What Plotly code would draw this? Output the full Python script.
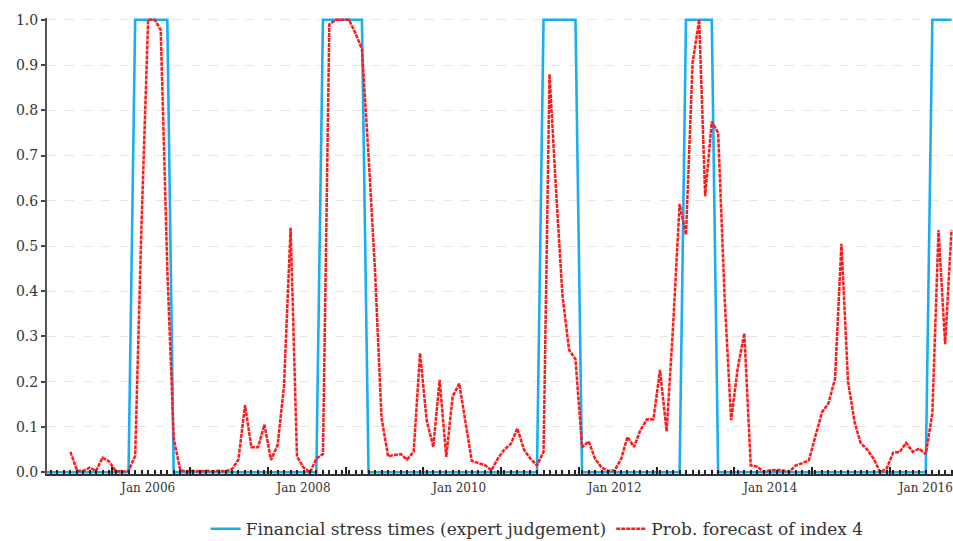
import pandas as pd
import plotly.graph_objects as go

# Monthly probability forecast of stress index 4, Jan 2005 - May 2016
forecast_start = "2005-01-01"
forecast = [
    # 2005
    0.045, 0.004, 0.002, 0.010, 0.003, 0.032, 0.024, 0.003, 0.001, 0.003, 0.036, 0.550,
    # 2006
    1.000, 1.000, 0.978, 0.450, 0.075, 0.004, 0.002, 0.003, 0.002, 0.003, 0.002, 0.003,
    # 2007
    0.002, 0.008, 0.028, 0.148, 0.055, 0.055, 0.105, 0.027, 0.060, 0.190, 0.540, 0.035,
    # 2008
    0.010, 0.000, 0.030, 0.040, 0.990, 1.000, 1.000, 1.000, 0.970, 0.935, 0.700, 0.450,
    # 2009
    0.120, 0.035, 0.038, 0.040, 0.028, 0.045, 0.263, 0.115, 0.056, 0.204, 0.034, 0.167,
    # 2010
    0.196, 0.110, 0.025, 0.020, 0.016, 0.004, 0.030, 0.050, 0.063, 0.097, 0.050, 0.030,
    # 2011
    0.015, 0.045, 0.880, 0.620, 0.390, 0.270, 0.250, 0.055, 0.068, 0.030, 0.010, 0.003,
    # 2012
    0.004, 0.030, 0.078, 0.056, 0.093, 0.117, 0.117, 0.226, 0.090, 0.320, 0.593, 0.525,
    # 2013
    0.905, 1.000, 0.610, 0.775, 0.750, 0.380, 0.115, 0.230, 0.307, 0.015, 0.012, 0.001,
    # 2014
    0.004, 0.005, 0.004, 0.001, 0.015, 0.020, 0.026, 0.080, 0.133, 0.152, 0.207, 0.505,
    # 2015
    0.200, 0.110, 0.065, 0.050, 0.030, 0.000, 0.008, 0.043, 0.045, 0.065, 0.045, 0.052,
    # 2016
    0.040, 0.130, 0.535, 0.283, 0.535,
]

# Expert-judgement stress indicator (1 = stress), Sep 2004 - May 2016
stress_start = "2004-09-01"
stress = [
    # 2004 (Sep-Dec)
    0, 0, 0, 0,
    # 2005
    0, 0, 0, 0, 0, 0, 0, 0, 0, 0, 1, 1,
    # 2006
    1, 1, 1, 1, 0, 0, 0, 0, 0, 0, 0, 0,
    # 2007
    0, 0, 0, 0, 0, 0, 0, 0, 0, 0, 0, 0,
    # 2008
    0, 0, 0, 1, 1, 1, 1, 1, 1, 1, 0, 0,
    # 2009
    0, 0, 0, 0, 0, 0, 0, 0, 0, 0, 0, 0,
    # 2010
    0, 0, 0, 0, 0, 0, 0, 0, 0, 0, 0, 0,
    # 2011
    0, 1, 1, 1, 1, 1, 1, 0, 0, 0, 0, 0,
    # 2012
    0, 0, 0, 0, 0, 0, 0, 0, 0, 0, 0, 1,
    # 2013
    1, 1, 1, 1, 0, 0, 0, 0, 0, 0, 0, 0,
    # 2014
    0, 0, 0, 0, 0, 0, 0, 0, 0, 0, 0, 0,
    # 2015
    0, 0, 0, 0, 0, 0, 0, 0, 0, 0, 0, 0,
    # 2016
    0, 1, 1, 1, 1,
]

x_tick_dates = ["2006-01-01", "2008-01-01", "2010-01-01", "2012-01-01", "2014-01-01", "2016-01-01"]
x_tick_text = ["Jan 2006", "Jan 2008", "Jan 2010", "Jan 2012", "Jan 2014", "Jan 2016"]
mid_year_ticks = ["2005-07-16", "2006-07-16", "2007-07-16", "2008-07-16", "2009-07-16", "2010-07-16",
                  "2011-07-16", "2012-07-16", "2013-07-16", "2014-07-16", "2015-07-16"]
y_tick_vals = [0.0, 0.1, 0.2, 0.3, 0.4, 0.5, 0.6, 0.7, 0.8, 0.9, 1.0]

forecast_dates = pd.date_range(forecast_start, periods=len(forecast), freq="MS")
stress_dates = pd.date_range(stress_start, periods=len(stress), freq="MS")

FONT = "DejaVu Serif"
TEXT = "#333333"
BLUE = "#1aaef0"
RED = "#ff1a1a"

fig = go.Figure()

# invisible helper trace that carries the secondary (mid-year tick) axis
fig.add_trace(go.Scatter(
    x=stress_dates, y=stress, xaxis="x2", mode="lines",
    line=dict(width=0), opacity=0, showlegend=False, hoverinfo="skip",
))

fig.add_trace(go.Scatter(
    x=stress_dates, y=stress, mode="lines",
    name="Financial stress times (expert judgement)",
    line=dict(color=BLUE, width=2.6),
))

fig.add_trace(go.Scatter(
    x=forecast_dates, y=forecast, mode="lines",
    name="Prob. forecast of index 4",
    line=dict(color=RED, width=2.5, dash="4px,1px"),
))

x_range = ["2004-09-13", "2016-05-08"]

fig.update_layout(
    width=953, height=541,
    margin=dict(l=47, r=0, t=18, b=67, autoexpand=False),
    paper_bgcolor="white", plot_bgcolor="white",
    font=dict(family=FONT, color=TEXT, size=13),
    showlegend=True,
    legend=dict(
        orientation="h", x=0.541, xanchor="center", y=-0.121, yanchor="middle",
        font=dict(family=FONT, size=17, color=TEXT),
        bgcolor="rgba(0,0,0,0)", itemwidth=30,
    ),
    xaxis=dict(
        type="date", range=x_range, automargin=False,
        tickvals=x_tick_dates, ticktext=x_tick_text,
        ticks="", showgrid=False, zeroline=False,
        showline=True, linecolor="#333333", linewidth=1.5,
        tickfont=dict(family=FONT, size=12, color=TEXT),
        ticklabelstandoff=2,
        minor=dict(ticks="inside", ticklen=4, tickwidth=1.5, tickcolor="#222222",
                   dtick="M1", tick0="2004-09-01", showgrid=False),
    ),
    xaxis2=dict(
        type="date", overlaying="x", matches="x", anchor="y", side="bottom",
        tickvals=mid_year_ticks, ticks="inside", ticklen=7, tickwidth=1.5,
        tickcolor="#222222", showticklabels=False, showgrid=False,
        showline=False, zeroline=False, automargin=False,
    ),
    yaxis=dict(
        range=[-0.004, 1.004], automargin=False,
        tickvals=y_tick_vals, tickformat=".1f",
        ticks="outside", ticklen=4, tickwidth=1.5, tickcolor="#444444",
        showline=True, linecolor="#555555", linewidth=2,
        showgrid=True, gridcolor="#e6e6e6", griddash="dash", gridwidth=1,
        zeroline=False,
        tickfont=dict(family=FONT, size=14, color=TEXT),
    ),
)

fig.write_html("out.html")
